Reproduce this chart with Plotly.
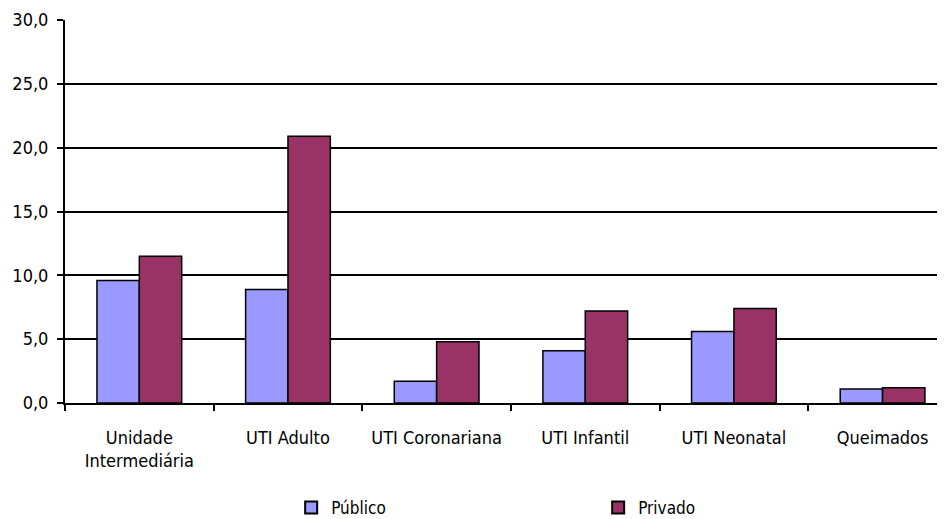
import plotly.graph_objects as go

categories = ["Unidade<br>Intermediária", "UTI Adulto", "UTI Coronariana", "UTI Infantil", "UTI Neonatal", "Queimados"]
publico = [9.6, 8.9, 1.7, 4.1, 5.6, 1.1]
privado = [11.5, 20.9, 4.8, 7.2, 7.4, 1.2]
y_ticks = [0, 5, 10, 15, 20, 25, 30]

FONT = "DejaVu Sans Condensed, Liberation Sans Narrow, Arial Narrow, sans-serif"

fig = go.Figure()
fig.add_trace(go.Bar(name="Público", x=categories, y=publico,
                     marker=dict(color="#9999FF", line=dict(color="black", width=1.5))))
fig.add_trace(go.Bar(name="Privado", x=categories, y=privado,
                     marker=dict(color="#993366", line=dict(color="black", width=1.5))))

# page body has an 8px default margin, so the figure is sized/offset to compensate
fig.update_layout(
    width=937, height=511,
    margin=dict(l=57, r=0, t=12, b=116, autoexpand=False),
    paper_bgcolor="white", plot_bgcolor="white",
    barmode="group", bargap=0.43, bargroupgap=0,
    separators=",.",
    font=dict(family=FONT, size=18, color="black"),
    showlegend=True,
    legend=dict(orientation="h", x=0.257, xanchor="left", y=-0.227, yanchor="top",
                entrywidth=262, entrywidthmode="pixels",
                font=dict(family=FONT, size=17, color="black"),
                itemsizing="constant", traceorder="normal"),
)
fig.update_xaxes(
    type="category", range=[-0.5, 5.42], automargin=False,
    showline=True, linecolor="black", linewidth=2,
    ticks="outside", tickson="boundaries", ticklen=6, tickwidth=2, tickcolor="black",
    showgrid=False, ticklabelstandoff=17,
)
fig.update_yaxes(
    range=[0, 30], tickvals=y_ticks, tickformat=".1f", automargin=False,
    showline=True, linecolor="black", linewidth=2,
    ticks="outside", ticklen=6, tickwidth=2, tickcolor="black",
    showgrid=True, gridcolor="black", gridwidth=1.5, zeroline=False,
    ticklabelstandoff=5,
)

fig.write_html("out.html")
